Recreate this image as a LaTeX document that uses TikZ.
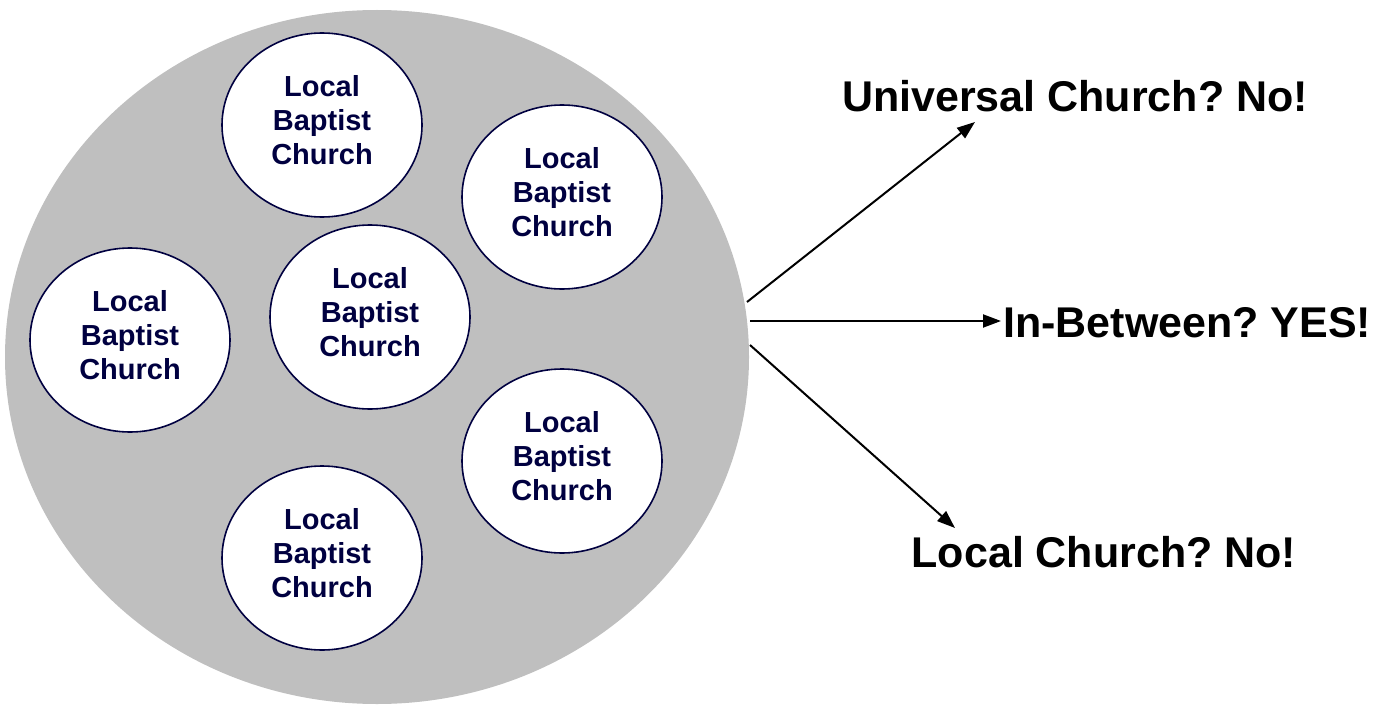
\documentclass[tikz,border=0pt]{standalone}
\usepackage{fontspec}
\setmainfont{Liberation Sans}
\frenchspacing
\usetikzlibrary{shapes.geometric,arrows.meta}
\definecolor{bggray}{HTML}{BFBFBF}
\definecolor{navy}{HTML}{000040}
\tikzset{
  church/.style={ellipse, draw=navy, line width=1.6pt, fill=white, text=navy,
    minimum width=200pt, minimum height=184pt, inner sep=0pt, align=center,
    text depth=11pt,
    font=\fontsize{29pt}{34pt}\selectfont\bfseries},
  answer/.style={inner sep=0pt, anchor=base, text=black,
    font=\fontsize{43pt}{50pt}\selectfont\bfseries},
  arr/.style={line width=2pt, -{Triangle[length=18pt,width=13pt]}}
}
\begin{document}
\begin{tikzpicture}[x=1pt,y=-1pt]
\useasboundingbox (0,0) rectangle (1383,706);
\node[ellipse, fill=bggray, minimum width=744pt, minimum height=694pt, inner sep=0pt] (world) at (377,357) {};
\node[church] (c1) at (322,125) {Local\\Baptist\\Church};
\node[church] (c2) at (562,197) {Local\\Baptist\\Church};
\node[church] (c3) at (130,340) {Local\\Baptist\\Church};
\node[church] (c4) at (370,317) {Local\\Baptist\\Church};
\node[church] (c5) at (562,461) {Local\\Baptist\\Church};
\node[church] (c6) at (322,558) {Local\\Baptist\\Church};
\node[answer] (univ) at (1075,112) {Universal Church? No!};
\node[answer, anchor=base west] (between) at (1003,337) {In-Between? YES!};
\node[answer] (local) at (1104,567) {Local Church? No!};
\coordinate (s1) at (747,302);
\coordinate (s2) at (750,321);
\coordinate (s3) at (750,345);
\coordinate (e1) at (975,122);
\coordinate (e2) at (1001,321);
\coordinate (e3) at (955,528);
\draw[arr] (s1) -- (e1);
\draw[arr] (s2) -- (e2);
\draw[arr] (s3) -- (e3);
\end{tikzpicture}
\end{document}
